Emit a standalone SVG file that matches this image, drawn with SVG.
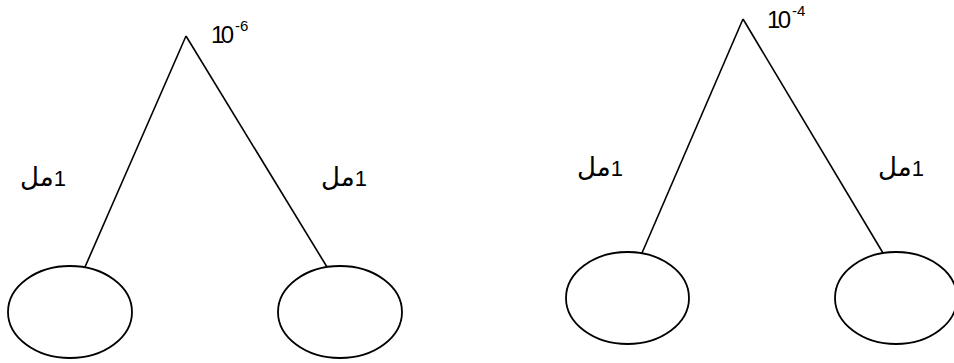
<svg xmlns="http://www.w3.org/2000/svg" width="954" height="363" viewBox="0 0 954 363">
  <style>
    .edge { stroke: #000; stroke-width: 1.6; fill: none; }
    .tube { stroke: #000; stroke-width: 1.8; fill: #fff; }
    .lbl { font-family: "Liberation Sans", "DejaVu Sans", sans-serif; font-size: 22px; fill: #000; }
    .exp { font-family: "Liberation Sans", sans-serif; font-size: 24px; fill: #000; }
    .sup { font-size: 15px; }
    .ar { font-family: "DejaVu Sans", sans-serif; font-size: 26px; }
  </style>
  <rect width="954" height="363" fill="#fff"/>

  <!-- dilution branches -->
  <g id="connectors">
    <line class="edge" x1="186" y1="36" x2="85" y2="267"/>
    <line class="edge" x1="186" y1="36" x2="327" y2="267"/>
    <line class="edge" x1="743" y1="19" x2="642" y2="253"/>
    <line class="edge" x1="743" y1="19" x2="883" y2="253"/>
  </g>

  <!-- left tree: 10^-6 -->
  <g id="apex-left">
    <text class="exp" x="211" y="43" textLength="23">10</text>
    <text class="exp sup" x="235" y="31">-6</text>
  </g>
  <g id="label-left-a">
    <text class="lbl" x="43" y="186" text-anchor="middle" direction="rtl" unicode-bidi="embed">1<tspan class="ar">مل</tspan></text>
  </g>
  <g id="label-left-b">
    <text class="lbl" x="344" y="186" text-anchor="middle" direction="rtl" unicode-bidi="embed">1<tspan class="ar">مل</tspan></text>
  </g>
  <g id="plate-left-a">
    <ellipse class="tube" cx="70" cy="312" rx="62" ry="46"/>
  </g>
  <g id="plate-left-b">
    <ellipse class="tube" cx="340" cy="312" rx="62" ry="46"/>
  </g>

  <!-- right tree: 10^-4 -->
  <g id="apex-right">
    <text class="exp" x="767" y="28" textLength="24">10</text>
    <text class="exp sup" x="792" y="16">-4</text>
  </g>
  <g id="label-right-a">
    <text class="lbl" x="600" y="176" text-anchor="middle" direction="rtl" unicode-bidi="embed">1<tspan class="ar">مل</tspan></text>
  </g>
  <g id="label-right-b">
    <text class="lbl" x="901" y="176" text-anchor="middle" direction="rtl" unicode-bidi="embed">1<tspan class="ar">مل</tspan></text>
  </g>
  <g id="plate-right-a">
    <ellipse class="tube" cx="627.5" cy="298" rx="61.5" ry="46"/>
  </g>
  <g id="plate-right-b">
    <ellipse class="tube" cx="896" cy="298" rx="61" ry="46"/>
  </g>
</svg>
